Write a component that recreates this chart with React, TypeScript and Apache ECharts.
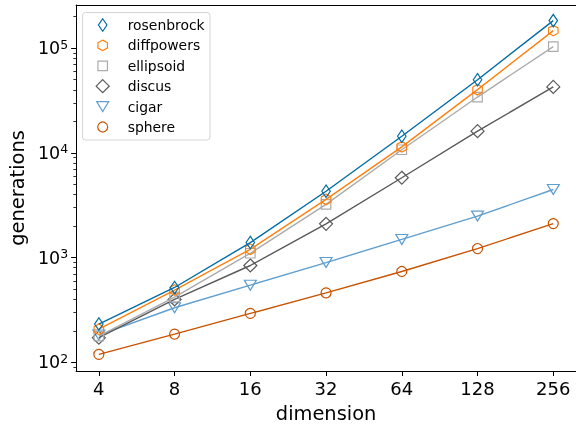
import React, { useEffect, useRef } from "react";
import * as echarts from "echarts";

const dimensions = [4, 8, 16, 32, 64, 128, 256];
const rosenbrock = [232, 518, 1390, 4300, 14400, 49900, 183000];
const diffpowers = [207, 490, 1200, 3590, 11400, 40100, 147000];
const ellipsoid = [178, 420, 1100, 3220, 10700, 34100, 103500];
const discus = [172, 398, 840, 2100, 5780, 16100, 42600];
const cigar = [182, 332, 545, 896, 1490, 2490, 4470];
const sphere = [119, 186, 293, 460, 736, 1219, 2110];

const xTickValues = [4, 8, 16, 32, 64, 128, 256];
const yMajorTicks = [100, 1000, 10000, 100000];

const names = ["rosenbrock", "diffpowers", "ellipsoid", "discus", "cigar", "sphere"];
const colors = ["#006BA4", "#FF800E", "#ABABAB", "#595959", "#5F9ED1", "#C85200"];

const HEX = "path://M0,-1 L0.866,-0.5 L0.866,0.5 L0,1 L-0.866,0.5 L-0.866,-0.5 Z";

const markers: any[] = [
  { symbol: "diamond", size: [8.5, 12.5], rotate: 0 },
  { symbol: HEX, size: [9.5, 10.5], rotate: 0 },
  { symbol: "rect", size: [9.5, 9.5], rotate: 0 },
  { symbol: "diamond", size: [13, 13], rotate: 0 },
  { symbol: "triangle", size: [12, 10], rotate: 180 },
  { symbol: "circle", size: [10, 10], rotate: 0 },
];

function legendMarker(i: number, cx: number, cy: number) {
  const c = colors[i];
  const style = { fill: "none", stroke: c, lineWidth: 1.2 };
  const [w, h] = markers[i].size;
  if (i === 0 || i === 3) {
    return { type: "polygon", shape: { points: [[cx, cy - h / 2], [cx + w / 2, cy], [cx, cy + h / 2], [cx - w / 2, cy]] }, style };
  }
  if (i === 1) {
    const rx = w / 2, ry = h / 2;
    return {
      type: "polygon",
      shape: { points: [[cx, cy - ry], [cx + rx, cy - ry / 2], [cx + rx, cy + ry / 2], [cx, cy + ry], [cx - rx, cy + ry / 2], [cx - rx, cy - ry / 2]] },
      style,
    };
  }
  if (i === 2) {
    return { type: "rect", shape: { x: cx - w / 2, y: cy - h / 2, width: w, height: h }, style };
  }
  if (i === 4) {
    return { type: "polygon", shape: { points: [[cx - w / 2, cy - h / 2], [cx + w / 2, cy - h / 2], [cx, cy + h / 2]] }, style };
  }
  return { type: "circle", shape: { cx, cy, r: w / 2 }, style };
}

export default function App() {
  const ref = useRef<HTMLDivElement>(null);
  useEffect(() => {
    if (!ref.current) return;
    const chart = echarts.init(ref.current, null, { renderer: "svg" });
    const seriesData = [rosenbrock, diffpowers, ellipsoid, discus, cigar, sphere];
    const xMin = Math.log2(4) - 0.3;
    const xMax = Math.log2(256) + 0.3;
    const yMin = Math.log10(82.6);
    const yMax = Math.log10(258000);
    const yMinor: number[] = [];
    for (let e = 1; e <= 5; e++) {
      for (let k = 2; k <= 9; k++) {
        const v = Math.log10(k * Math.pow(10, e));
        if (v >= yMin && v <= yMax) yMinor.push(v);
      }
    }
    const spine = { show: true, lineStyle: { color: "#000", width: 1 } };
    const legendX = 102.7;
    const legendY0 = 25;
    const legendStep = 20.4;
    const graphic: any[] = [
      {
        type: "rect",
        shape: { x: 82.5, y: 12.5, width: 127.5, height: 127.5, r: 3 },
        style: { fill: "rgba(255,255,255,0.8)", stroke: "#d4d4d4", lineWidth: 1 },
        z: 100,
      },
    ];
    names.forEach((n, i) => {
      const cy = legendY0 + i * legendStep;
      graphic.push({ ...legendMarker(i, legendX, cy), z: 101 });
      graphic.push({
        type: "text",
        x: 127.7,
        y: cy,
        style: { text: n, fontSize: 13.9, fontFamily: "DejaVu Sans", fill: "#000", verticalAlign: "middle", align: "left" },
        z: 101,
      });
    });

    chart.setOption({
      animation: false,
      textStyle: { fontFamily: "DejaVu Sans" },
      grid: { left: 75, right: -1, top: 5, bottom: 56, containLabel: false },
      xAxis: [
        {
          type: "value",
          min: xMin,
          max: xMax,
          position: "bottom",
          name: "dimension",
          nameLocation: "middle",
          nameGap: 33,
          nameTextStyle: { fontSize: 19.4, color: "#000", fontFamily: "DejaVu Sans" },
          axisLine: spine,
          axisTick: { show: true, customValues: xTickValues.map((v) => Math.log2(v)), length: 5, lineStyle: { color: "#000", width: 1 } },
          axisLabel: {
            customValues: xTickValues.map((v) => Math.log2(v)),
            formatter: (v: number) => String(Math.round(Math.pow(2, v))),
            fontSize: 18,
            color: "#000",
            margin: 8,
          },
          splitLine: { show: false },
        },
        {
          type: "value",
          min: xMin,
          max: xMax,
          position: "top",
          axisLine: spine,
          axisTick: { show: false },
          axisLabel: { show: false },
          splitLine: { show: false },
        },
      ],
      yAxis: [
        {
          type: "value",
          min: yMin,
          max: yMax,
          position: "left",
          name: "generations",
          nameLocation: "middle",
          nameGap: 48,
          nameRotate: 90,
          nameTextStyle: { fontSize: 19.4, color: "#000", fontFamily: "DejaVu Sans" },
          axisLine: spine,
          axisTick: { show: true, customValues: yMajorTicks.map((v) => Math.log10(v)), length: 5, lineStyle: { color: "#000", width: 1 } },
          axisLabel: {
            customValues: yMajorTicks.map((v) => Math.log10(v)),
            formatter: (v: number) => "{b|10}{s|" + Math.round(v) + "}",
            margin: 8,
            color: "#000",
            rich: {
              b: { fontSize: 17.5, lineHeight: 21, color: "#000", fontFamily: "DejaVu Sans" },
              s: { fontSize: 12.5, lineHeight: 10, verticalAlign: "top", color: "#000", fontFamily: "DejaVu Sans" },
            },
          },
          splitLine: { show: false },
        },
        {
          type: "value",
          min: yMin,
          max: yMax,
          position: "left",
          axisLine: { show: false },
          axisTick: { show: true, customValues: yMinor, length: 2.8, lineStyle: { color: "#000", width: 0.8 } },
          axisLabel: { show: false },
          splitLine: { show: false },
        },
        {
          type: "value",
          min: yMin,
          max: yMax,
          position: "right",
          axisLine: spine,
          axisTick: { show: false },
          axisLabel: { show: false },
          splitLine: { show: false },
        },
      ],
      graphic,
      series: names.map((n, i) => ({
        name: n,
        type: "line",
        xAxisIndex: 0,
        yAxisIndex: 0,
        data: dimensions.map((d, j) => [Math.log2(d), Math.log10(seriesData[i][j])]),
        symbol: markers[i].symbol,
        symbolSize: markers[i].size,
        symbolRotate: markers[i].rotate,
        showAllSymbol: true,
        lineStyle: { color: colors[i], width: 1.4 },
        itemStyle: { color: "none", borderColor: colors[i], borderWidth: 1.2 },
        emphasis: { disabled: true },
        z: 2 + (names.length - i),
      })),
    });
    return () => chart.dispose();
  }, []);
  return <div ref={ref} style={{ position: "fixed", left: 0, top: 0, width: 576, height: 428 }} />;
}
